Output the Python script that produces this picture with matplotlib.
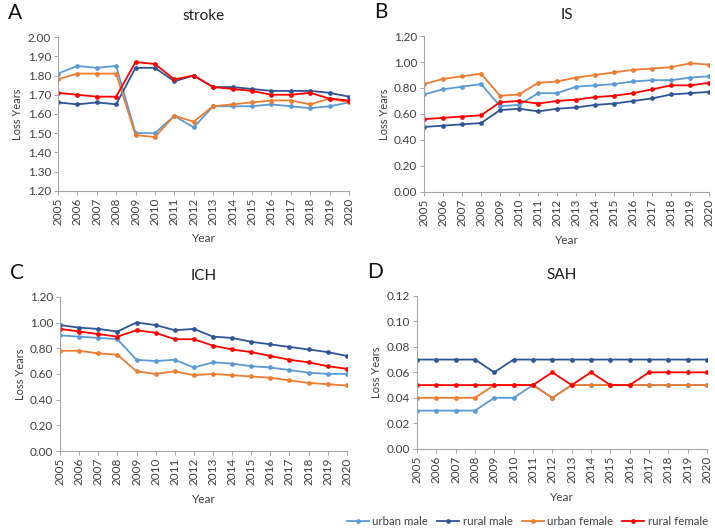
import matplotlib
matplotlib.use("Agg")
import matplotlib.pyplot as plt
import numpy as np

plt.rcParams['font.family'] = ['Lato', 'DejaVu Sans']

years = list(range(2005, 2021))
series_names = ["urban male", "rural male", "urban female", "rural female"]
colors = ["#5B9BD5", "#2F5597", "#ED7D31", "#FF0000"]

stroke_urban_male = [1.81,1.85,1.84,1.85,1.50,1.50,1.59,1.53,1.64,1.64,1.64,1.65,1.64,1.63,1.64,1.66]
stroke_rural_male = [1.66,1.65,1.66,1.65,1.84,1.84,1.77,1.80,1.74,1.74,1.73,1.72,1.72,1.72,1.71,1.69]
stroke_urban_female = [1.78,1.81,1.81,1.81,1.49,1.48,1.59,1.56,1.64,1.65,1.66,1.67,1.67,1.65,1.68,1.66]
stroke_rural_female = [1.71,1.70,1.69,1.69,1.87,1.86,1.78,1.80,1.74,1.73,1.72,1.70,1.70,1.71,1.68,1.67]

is_urban_male = [0.75,0.79,0.81,0.83,0.66,0.67,0.76,0.76,0.81,0.82,0.83,0.85,0.86,0.86,0.88,0.89]
is_rural_male = [0.50,0.51,0.52,0.53,0.63,0.64,0.62,0.64,0.65,0.67,0.68,0.70,0.72,0.75,0.76,0.77]
is_urban_female = [0.83,0.87,0.89,0.91,0.74,0.75,0.84,0.85,0.88,0.90,0.92,0.94,0.95,0.96,0.99,0.98]
is_rural_female = [0.56,0.57,0.58,0.59,0.69,0.70,0.68,0.70,0.71,0.73,0.74,0.76,0.79,0.82,0.82,0.84]

ich_urban_male = [0.90,0.89,0.88,0.87,0.71,0.70,0.71,0.65,0.69,0.68,0.66,0.65,0.63,0.61,0.60,0.60]
ich_rural_male = [0.98,0.96,0.95,0.93,1.00,0.98,0.94,0.95,0.89,0.88,0.85,0.83,0.81,0.79,0.77,0.74]
ich_urban_female = [0.78,0.78,0.76,0.75,0.62,0.60,0.62,0.59,0.60,0.59,0.58,0.57,0.55,0.53,0.52,0.51]
ich_rural_female = [0.95,0.93,0.91,0.89,0.94,0.92,0.87,0.87,0.82,0.79,0.77,0.74,0.71,0.69,0.66,0.64]

sah_urban_male = [0.03,0.03,0.03,0.03,0.04,0.04,0.05,0.04,0.05,0.05,0.05,0.05,0.05,0.05,0.05,0.05]
sah_rural_male = [0.07,0.07,0.07,0.07,0.06,0.07,0.07,0.07,0.07,0.07,0.07,0.07,0.07,0.07,0.07,0.07]
sah_urban_female = [0.04,0.04,0.04,0.04,0.05,0.05,0.05,0.04,0.05,0.05,0.05,0.05,0.05,0.05,0.05,0.05]
sah_rural_female = [0.05,0.05,0.05,0.05,0.05,0.05,0.05,0.06,0.05,0.06,0.05,0.05,0.06,0.06,0.06,0.06]

panels = [
    dict(letter="A", title="stroke", data=[stroke_urban_male, stroke_rural_male, stroke_urban_female, stroke_rural_female],
         ylim=(1.20, 2.00), step=0.10, fmt="{:.2f}", rect=[0.081, 0.640, 0.407, 0.290]),
    dict(letter="B", title="IS", data=[is_urban_male, is_rural_male, is_urban_female, is_rural_female],
         ylim=(0.0, 1.20), step=0.20, fmt="{:.2f}", rect=[0.593, 0.638, 0.399, 0.294]),
    dict(letter="C", title="ICH", data=[ich_urban_male, ich_rural_male, ich_urban_female, ich_rural_female],
         ylim=(0.0, 1.20), step=0.20, fmt="{:.2f}", rect=[0.084, 0.149, 0.401, 0.291]),
    dict(letter="D", title="SAH", data=[sah_urban_male, sah_rural_male, sah_urban_female, sah_rural_female],
         ylim=(0.0, 0.12), step=0.02, fmt="{:.2f}", rect=[0.583, 0.153, 0.406, 0.289]),
]

fig = plt.figure(figsize=(7.15, 5.30), dpi=100)
txtc = "#404040"
handles = []
for p in panels:
    ax = fig.add_axes(p["rect"])
    for name, vals, c in zip(series_names, p["data"], colors):
        h, = ax.plot(years, vals, color=c, lw=1.3, marker='o', ms=2.4, label=name)
        if p["letter"] == "A":
            handles.append(h)
    ax.set_xlim(years[0], years[-1])
    ax.set_ylim(*p["ylim"])
    yt = np.arange(p["ylim"][0], p["ylim"][1] + 1e-9, p["step"])
    ax.set_yticks(yt)
    ax.set_yticklabels([p["fmt"].format(v) for v in yt], fontsize=8.5, color=txtc)
    ax.set_xticks(years)
    ax.set_xticklabels([str(y) for y in years], rotation=90, fontsize=8.5, color=txtc)
    for s in ["top", "right"]:
        ax.spines[s].set_visible(False)
    for s in ["left", "bottom"]:
        ax.spines[s].set_color("#A6A6A6")
        ax.spines[s].set_linewidth(0.8)
    ax.tick_params(axis='both', length=3, width=0.7, color="#A6A6A6", pad=2)
    ax.set_ylabel("Loss Years", fontsize=8, color=txtc, labelpad=3)
    ax.set_xlabel("Year", fontsize=8.5, color=txtc, labelpad=6)
    ax.set_title(p["title"], fontsize=11, color="#202020", pad=12)
    bb = p["rect"]
    fig.text(bb[0] - 0.070, bb[1] + bb[3] + 0.045, p["letter"], fontsize=15, color="#111111",
             ha="left", va="center")

fig.legend(handles=handles, labels=series_names, loc="center right", bbox_to_anchor=(1.0, 0.016),
           ncol=4, frameon=False, fontsize=8.3, handlelength=1.9, columnspacing=0.8, handletextpad=0.3,
           labelcolor=txtc, borderaxespad=0.2)

fig.savefig("out.png", dpi=100)
